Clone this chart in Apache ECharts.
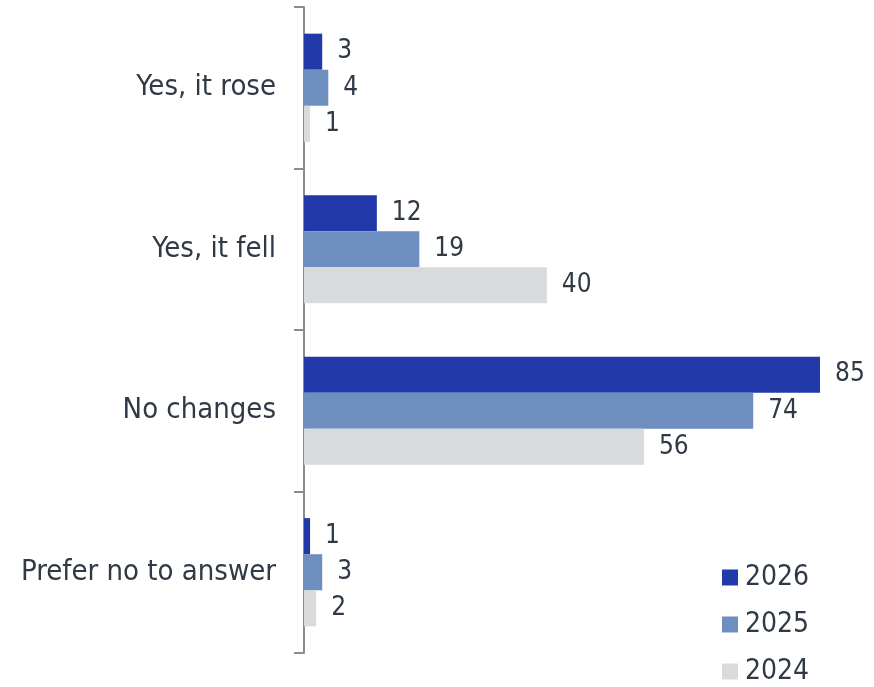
<!DOCTYPE html>
<html>
<head>
<meta charset="utf-8">
<script src="https://cdn.jsdelivr.net/npm/echarts@6/dist/echarts.min.js"></script>
<style>
  html, body { margin: 0; padding: 0; background: #fff; }
  #chart { width: 874px; height: 687px; }
</style>
</head>
<body>
<div id="chart"></div>
<script>
var categories = ["Yes, it rose", "Yes, it fell", "No changes", "Prefer no to answer"];
var years = ["2026", "2025", "2024"];
var values2026 = [3, 12, 85, 1];
var values2025 = [4, 19, 74, 3];
var values2024 = [1, 40, 56, 2];
var colors = ["#2239a9", "#6e8ec0", "#d9dadc"];

var textColor = "#2f3a46";
var font = "DejaVu Sans Condensed";

function makeSeries(name, data, color) {
    return {
        name: name,
        type: "bar",
        data: data,
        barGap: "0%",
        barCategoryGap: "33%",
        itemStyle: { color: color },
        label: {
            show: true,
            position: "right",
            distance: 15,
            color: textColor,
            fontFamily: font,
            fontSize: 26
        }
    };
}

var chart = echarts.init(document.getElementById("chart"));
chart.setOption({
    animation: false,
    grid: { left: 304, top: 7, bottom: 34, width: 516 },
    legend: {
        orient: "vertical",
        left: 722,
        top: 562,
        padding: 0,
        height: 200,
        itemWidth: 16,
        itemHeight: 16,
        itemGap: 16,
        icon: "rect",
        textStyle: { color: textColor, fontFamily: font, fontSize: 28, lineHeight: 31, padding: [0, 0, 0, 2] },
        data: years
    },
    xAxis: {
        type: "value",
        min: 0,
        max: 85,
        show: false
    },
    yAxis: {
        type: "category",
        inverse: true,
        data: categories,
        axisLine: { show: true, lineStyle: { color: "#8c8c8c", width: 2 } },
        axisTick: { show: true, inside: false, length: 10, lineStyle: { color: "#8c8c8c", width: 2 } },
        axisLabel: { margin: 28, color: textColor, fontFamily: font, fontSize: 29 }
    },
    series: [
        makeSeries(years[0], values2026, colors[0]),
        makeSeries(years[1], values2025, colors[1]),
        makeSeries(years[2], values2024, colors[2])
    ]
});
</script>
</body>
</html>
